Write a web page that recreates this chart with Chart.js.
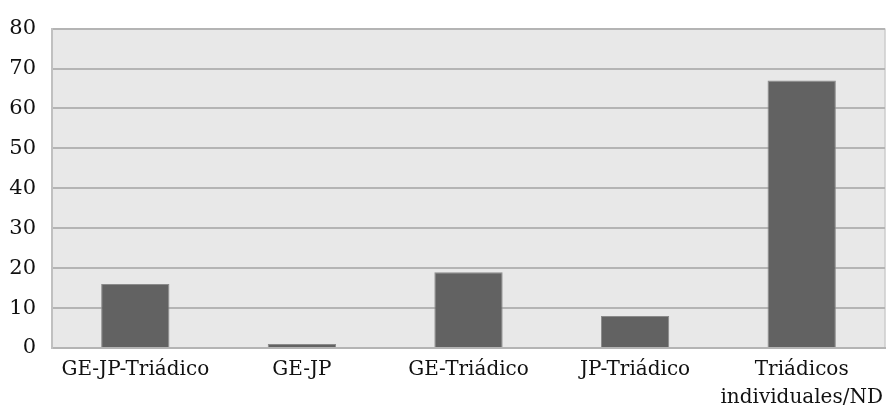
<!DOCTYPE html>
<html>
<head>
<meta charset="utf-8">
<script src="https://cdn.jsdelivr.net/npm/chart.js@4"></script>
<style>
html,body{margin:0;padding:0;background:#fff;}
#wrap{width:889px;height:411px;}
</style>
</head>
<body>
<div id="wrap"><canvas id="c" width="889" height="411"></canvas></div>
<script>
const categories = ["GE-JP-Triádico", ["GE-JP"], "GE-Triádico", "JP-Triádico", ["Triádicos", "individuales/ND"]];
const values = [16, 1, 19, 8, 67];
const yTicks = [0, 10, 20, 30, 40, 50, 60, 70, 80];

const bgPlugin = {
  id: 'bg',
  beforeDraw(chart) {
    const {ctx, chartArea: a} = chart;
    ctx.save();
    ctx.fillStyle = '#e8e8e8';
    ctx.fillRect(a.left, a.top, a.right - a.left, a.bottom - a.top);
    ctx.strokeStyle = '#cccccc';
    ctx.lineWidth = 1.5;
    ctx.beginPath();
    ctx.moveTo(a.right, a.top);
    ctx.lineTo(a.right, a.bottom);
    ctx.stroke();
    ctx.restore();
  }
};

new Chart(document.getElementById('c'), {
  type: 'bar',
  data: {
    labels: categories,
    datasets: [{
      data: values,
      backgroundColor: '#626262',
      borderColor: '#8a8a8a',
      borderWidth: 1,
      categoryPercentage: 1,
      barPercentage: 0.41
    }]
  },
  plugins: [bgPlugin],
  options: {
    responsive: false,
    animation: false,
    devicePixelRatio: 1,
    layout: {padding: {top: 24, right: 4, left: 0, bottom: 0}},
    plugins: {legend: {display: false}, tooltip: {enabled: false}},
    scales: {
      x: {
        grid: {display: false, drawTicks: false},
        border: {display: true, color: '#b4b4b4', width: 2},
        ticks: {
          color: '#111111',
          font: {family: 'DejaVu Serif', size: 20, lineHeight: 1.4},
          padding: 8,
          maxRotation: 0,
          autoSkip: false
        },
        afterFit(s) { s.height = 63; s.paddingLeft = 0; s.paddingRight = 0; }
      },
      y: {
        min: 0,
        max: 80,
        afterBuildTicks(s) { s.ticks = yTicks.map(v => ({value: v})); },
        grid: {color: '#b4b4b4', lineWidth: 2, drawTicks: false},
        border: {display: true, color: '#c0c0c0', width: 2},
        ticks: {
          color: '#111111',
          font: {family: 'DejaVu Serif', size: 21},
          padding: 16
        },
        afterFit(s) { s.width = 52; }
      }
    }
  }
});
</script>
</body>
</html>
